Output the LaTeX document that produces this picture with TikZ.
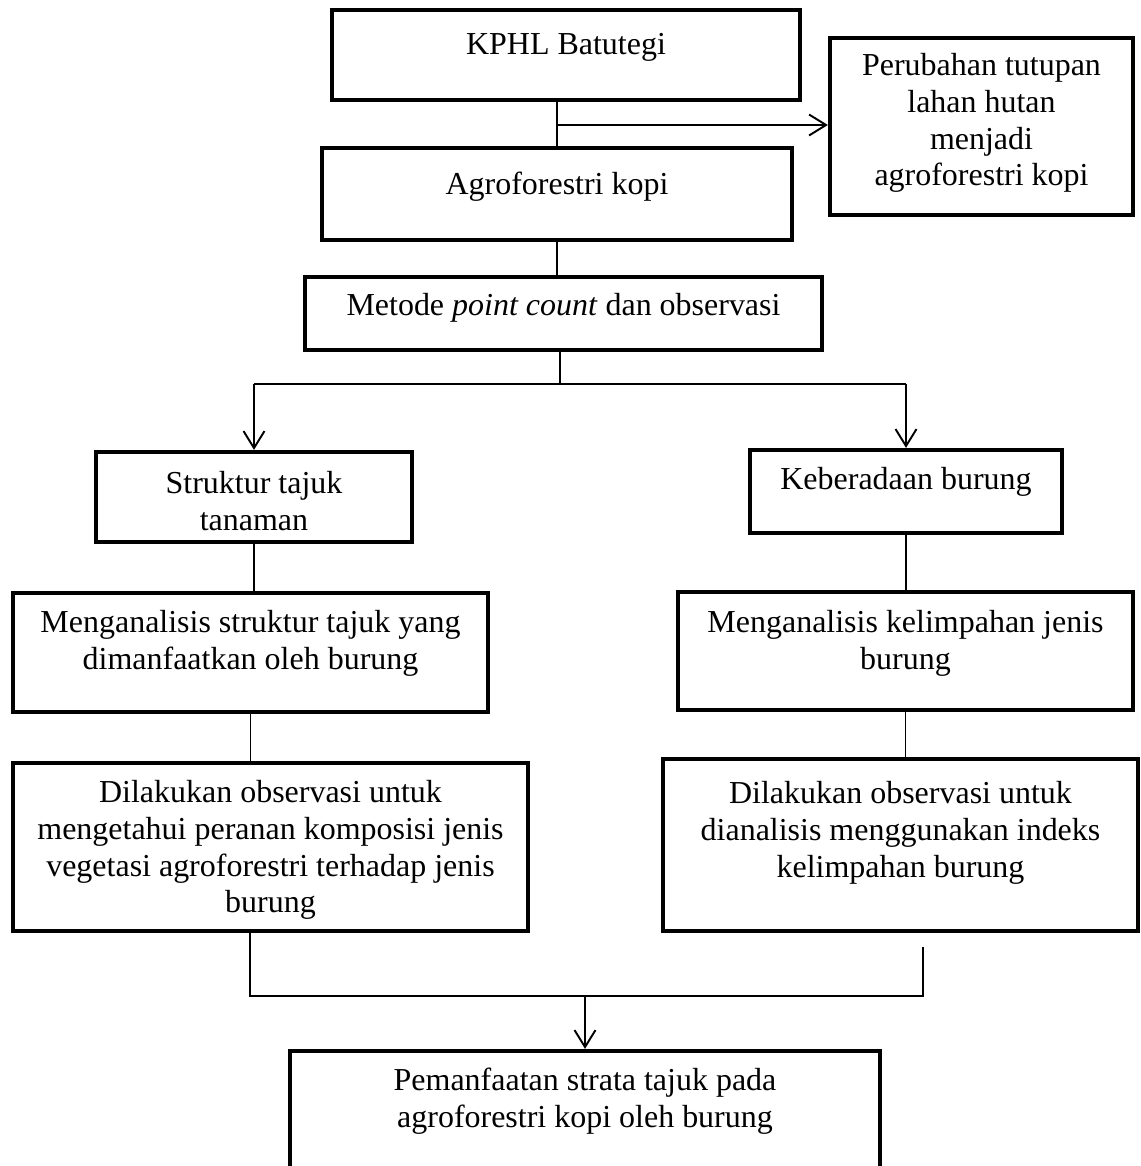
\documentclass[tikz,border=0pt]{standalone}
\usepackage{fontspec}
\setmainfont{Liberation Serif}
\usetikzlibrary{positioning, arrows.meta, fit}

\begin{document}
\begin{tikzpicture}[
    x=0.02cm, y=-0.02cm,
    box/.style={rectangle, draw, line width=2.4pt, inner sep=0pt},
    txt/.style={align=center, inner sep=0pt, font=\fontsize{18.2}{21}\selectfont},
    line/.style={line width=0.9pt},
    arr/.style={line width=1.1pt, -{Straight Barb[length=3.4mm, width=4.2mm, line width=1.1pt]}}
]
\useasboundingbox (0,0) rectangle (1140,1166);

% kotak-kotak
\node[box, fit={(332,10) (800,100)}] (kphl) {};
\node[box, fit={(830,38) (1133,215)}] (perubahan) {};
\node[box, fit={(322,148) (792,240)}] (agro) {};
\node[box, fit={(305,277) (822,350)}] (metode) {};
\node[box, fit={(96,452) (412,542)}] (struktur) {};
\node[box, fit={(750,450) (1062,533)}] (burung) {};
\node[box, fit={(13,593) (488,712)}] (analisisL) {};
\node[box, fit={(678,592) (1133,710)}] (analisisR) {};
\node[box, fit={(13,763) (528,931)}] (obsL) {};
\node[box, fit={(663,759) (1138,931)}] (obsR) {};
\node[box, fit={(290,1051) (880,1200)}] (hasil) {};

% teks
\node[txt] (kphl-t) at (kphl |- 0,47) {KPHL Batutegi};
\node[txt] (perubahan-t) at (perubahan |- 0,123) {Perubahan tutupan\\lahan hutan\\menjadi\\agroforestri kopi};
\node[txt] (agro-t) at (agro |- 0,187) {Agroforestri kopi};
\node[txt] (metode-t) at (metode |- 0,308) {Metode \textit{point count} dan observasi};
\node[txt] (struktur-t) at (struktur |- 0,501) {Struktur tajuk\\tanaman};
\node[txt] (burung-t) at (burung |- 0,482) {Keberadaan burung};
\node[txt] (analisisL-t) at (analisisL |- 0,643) {Menganalisis struktur tajuk yang\\dimanfaatkan oleh burung};
\node[txt] (analisisR-t) at (analisisR |- 0,643) {Menganalisis kelimpahan jenis\\burung};
\node[txt] (obsL-t) at (obsL |- 0,850) {Dilakukan observasi untuk\\mengetahui peranan komposisi jenis\\vegetasi agroforestri terhadap jenis\\burung};
\node[txt] (obsR-t) at (obsR |- 0,833) {Dilakukan observasi untuk\\dianalisis menggunakan indeks\\kelimpahan burung};
\node[txt] (hasil-t) at (hasil |- 0,1101) {Pemanfaatan strata tajuk pada\\agroforestri kopi oleh burung};

% garis
\coordinate (samping) at (557,125);
\coordinate (cabang) at (560,384);
\coordinate (gabungL) at (250,996);
\coordinate (gabungR) at (923,996);
\coordinate (ujungR) at (923,947);

\draw[line] (kphl.south -| agro) -- (agro.north);
\draw[arr] (samping) -- (samping -| perubahan.west);
\draw[line] (agro.south) -- (agro.south |- metode.north);
\draw[line] (metode.south -| cabang) -- (cabang);
\draw[line] (struktur |- cabang) -- (burung |- cabang);
\draw[arr] (struktur |- cabang) -- (struktur.north);
\draw[arr] (burung |- cabang) -- (burung.north);
\draw[line] (struktur.south) -- (struktur.south |- analisisL.north);
\draw[line] (analisisL.south) -- (analisisL.south |- obsL.north);
\draw[line] (burung.south) -- (burung.south |- analisisR.north);
\draw[line] (analisisR.south) -- (analisisR.south |- obsR.north);
\draw[line] (obsL.south -| gabungL) -- (gabungL) -- (gabungR) -- (ujungR);
\draw[arr] (hasil.north |- gabungL) -- (hasil.north);
\end{tikzpicture}
\end{document}
